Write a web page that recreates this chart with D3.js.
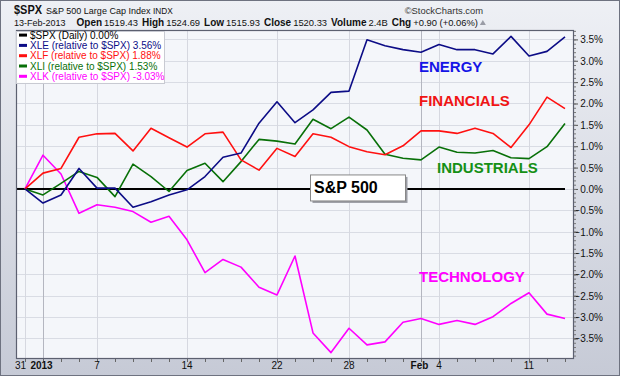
<!DOCTYPE html>
<html>
<head>
<meta charset="utf-8">
<script src="https://cdn.jsdelivr.net/npm/d3@7"></script>
<style>
body { margin: 0; background: #fff; }
svg { display: block; font-family: "Liberation Sans", Arial, sans-serif; }
</style>
</head>
<body>
<svg id="chart"></svg>
<script>
// trading days, Dec 31 2012 - Feb 13 2013
const dates = ["2012-12-31","2013-01-02","2013-01-03","2013-01-04","2013-01-07","2013-01-08","2013-01-09","2013-01-10","2013-01-11",
  "2013-01-14","2013-01-15","2013-01-16","2013-01-17","2013-01-18","2013-01-22","2013-01-23","2013-01-24","2013-01-25",
  "2013-01-28","2013-01-29","2013-01-30","2013-01-31","2013-02-01","2013-02-04","2013-02-05","2013-02-06","2013-02-07",
  "2013-02-08","2013-02-11","2013-02-12","2013-02-13"];

// % performance relative to $SPX
const spx = [0,0,0,0,0,0,0,0,0,0,0,0,0,0,0,0,0,0,0,0,0,0,0,0,0,0,0,0,0,0,0];
const xle = [0,-0.33,-0.14,0.48,0.02,0.02,-0.43,-0.30,-0.14,-0.02,0.29,0.74,0.84,1.54,2.04,1.55,1.85,2.26,2.29,3.49,3.35,3.26,3.20,3.38,3.26,3.26,3.16,3.57,3.11,3.22,3.56];
const xlf = [0,0.37,0.48,1.21,1.29,1.30,0.89,1.42,1.20,0.98,1.29,1.33,0.68,0.44,0.95,0.76,1.29,1.21,0.99,0.87,0.80,1.01,1.36,1.36,1.30,1.42,1.30,0.97,1.50,2.15,1.88];
const xli = [0,-0.14,0.13,0.41,0.27,-0.18,0.58,0.29,-0.06,0.43,0.60,0.17,0.64,1.16,1.12,1.05,1.63,1.41,1.68,1.38,0.81,0.72,0.68,0.98,0.86,0.84,0.90,0.73,0.71,0.99,1.53];
const xlk = [0,0.79,0.35,-0.57,-0.37,-0.43,-0.53,-0.78,-0.64,-1.19,-1.96,-1.65,-1.83,-2.30,-2.48,-1.57,-3.37,-3.83,-3.26,-3.65,-3.58,-3.12,-3.03,-3.17,-3.08,-3.17,-2.99,-2.68,-2.43,-2.93,-3.03];

const legendLabels = ["$SPX (Daily) 0.00%", "XLE (relative to $SPX) 3.56%", "XLF (relative to $SPX) 1.88%",
  "XLI (relative to $SPX) 1.53%", "XLK (relative to $SPX) -3.03%"];
const sectorNames = ["ENERGY", "FINANCIALS", "INDUSTRIALS", "TECHNOLOGY"];

const weekTicks = ["2012-12-31","2013-01-07","2013-01-14","2013-01-22","2013-01-28","2013-02-04","2013-02-11"];
const monthTicks = ["2013-01-02","2013-02-01"];
const monthLabels = ["2013","Feb"];
const yTicks = [-3.5,-3,-2.5,-2,-1.5,-1,-0.5,0,0.5,1,1.5,2,2.5,3,3.5];

const headerQuote = [["Open","1519.43"],["High","1524.69"],["Low","1515.93"],["Close","1520.33"],["Volume","2.4B"],["Chg","+0.90 (+0.06%)"]];

const width = 620, height = 376,
    margin = ({ top: 30, right: 46, bottom: 17, left: 16 });

const svg = d3.select("#chart").attr("width", width).attr("height", height);

const defs = svg.append("defs");
const bg = defs.append("linearGradient").attr("id", "bg").attr("x1", 0).attr("y1", 0).attr("x2", 0).attr("y2", 1);
bg.append("stop").attr("offset", "0%").attr("stop-color", "#eef0f5");
bg.append("stop").attr("offset", "100%").attr("stop-color", "#c6cad6");
defs.append("clipPath").attr("id", "plotclip").append("rect")
    .attr("x", margin.left).attr("y", margin.top)
    .attr("width", width - margin.left - margin.right)
    .attr("height", height - margin.top - margin.bottom);

svg.append("rect").attr("x", 0.5).attr("y", 0.5).attr("width", width - 1).attr("height", height - 1)
    .attr("fill", "url(#bg)").attr("stroke", "#6e7280");

const x = d3.scalePoint()
    .domain(dates)
    .range([margin.left, width - margin.right])
    .padding(0.5);

const y = d3.scaleLinear()
    .domain([-3.98, 3.72])
    .range([height - margin.bottom, margin.top]);

// plot background
svg.append("rect")
    .attr("x", margin.left).attr("y", margin.top)
    .attr("width", width - margin.left - margin.right)
    .attr("height", height - margin.top - margin.bottom)
    .attr("fill", "#f4f6fa");

// grid
const grid = svg.append("g").attr("clip-path", "url(#plotclip)");
grid.selectAll(".hgrid").data(yTicks).join("line")
    .attr("x1", margin.left).attr("x2", width - margin.right)
    .attr("y1", d => Math.round(y(d)) + 0.5).attr("y2", d => Math.round(y(d)) + 0.5)
    .attr("stroke", "#d9dce4");
grid.selectAll(".wgrid").data(weekTicks).join("line")
    .attr("x1", d => Math.round(x(d)) + 0.5).attr("x2", d => Math.round(x(d)) + 0.5)
    .attr("y1", margin.top).attr("y2", height - margin.bottom)
    .attr("stroke", "#d6d8e0");
grid.selectAll(".mgrid").data(monthTicks).join("line")
    .attr("x1", d => Math.round(x(d)) + 0.5).attr("x2", d => Math.round(x(d)) + 0.5)
    .attr("y1", margin.top).attr("y2", height - margin.bottom)
    .attr("stroke", "#b4b6c0");

// series
const series = [
    { values: spx, color: "#000000", w: 2 },
    { values: xlk, color: "#ff00ff", w: 1.6 },
    { values: xli, color: "#087008", w: 1.6 },
    { values: xlf, color: "#ff1010", w: 1.6 },
    { values: xle, color: "#0c0c86", w: 1.6 }
];
const line = d3.line().x((d, i) => x(dates[i])).y(d => y(d));
// $SPX baseline runs in from the plot edge
grid.append("line")
    .attr("x1", margin.left).attr("x2", x(dates[0]))
    .attr("y1", y(spx[0])).attr("y2", y(spx[0]))
    .attr("stroke", "#000").attr("stroke-width", 2);
grid.selectAll(".series").data(series).join("path")
    .attr("fill", "none")
    .attr("stroke", d => d.color)
    .attr("stroke-width", d => d.w)
    .attr("stroke-linejoin", "round")
    .attr("d", d => line(d.values));

// sector labels
const sectorColors = ["#1414e6", "#f01414", "#159015", "#ff00ff"];
const sectorPos = [["2013-02-01", 2.74], ["2013-02-01", 1.93], ["2013-02-04", 0.37], ["2013-02-01", -2.18]];
svg.selectAll(".sector").data(sectorNames).join("text")
    .attr("x", (d, i) => x(sectorPos[i][0]) - 2)
    .attr("y", (d, i) => y(sectorPos[i][1]))
    .attr("fill", (d, i) => sectorColors[i])
    .attr("font-size", 15).attr("font-weight", "bold")
    .text(d => d);

// S&P 500 box
const boxX = x("2013-01-28") - 39, boxY = y(0) - 14.5;
svg.append("rect").attr("x", boxX + 2.5).attr("y", boxY + 2.5).attr("width", 95).attr("height", 26).attr("fill", "#9a9ca4");
svg.append("rect").attr("x", boxX + 0.5).attr("y", boxY + 0.5).attr("width", 95).attr("height", 26)
    .attr("fill", "#ffffff").attr("stroke", "#888");
svg.append("text").attr("x", boxX + 4).attr("y", boxY + 19).attr("font-size", 16).attr("font-weight", "bold")
    .attr("fill", "#000").text("S&P 500");

// plot border
svg.append("rect")
    .attr("x", margin.left + 0.5).attr("y", margin.top + 0.5)
    .attr("width", width - margin.left - margin.right - 1)
    .attr("height", height - margin.top - margin.bottom - 1)
    .attr("fill", "none").attr("stroke", "#5c6070").attr("stroke-width", 1.2);

// right axis
const yAxis = svg.append("g")
    .attr("transform", `translate(${width - margin.right},0)`)
    .call(d3.axisRight(y).tickValues(yTicks).tickSize(4).tickFormat(d => d3.format(".1f")(d) + "%"));
yAxis.select(".domain").remove();
yAxis.selectAll("line").attr("stroke", "#555");
yAxis.selectAll("text").attr("text-anchor", "end").attr("x", 29).attr("dy", "0.35em")
    .attr("font-size", 10).attr("font-family", "Liberation Sans, Arial, sans-serif").attr("fill", "#111");
svg.append("g")
    .attr("transform", `translate(${width - margin.right},0)`)
    .call(d3.axisRight(y).tickValues(d3.range(-39, 38).map(d => d / 10)).tickSize(2).tickFormat(""))
    .call(g => g.select(".domain").remove())
    .selectAll("line").attr("stroke", "#777");

// bottom axis: a tick per trading day
svg.append("g")
    .attr("transform", `translate(0,${height - margin.bottom})`)
    .call(d3.axisBottom(x).tickSize(3).tickFormat(""))
    .call(g => g.select(".domain").remove())
    .selectAll("line").attr("stroke", "#666");

const parse = d3.timeParse("%Y-%m-%d");
svg.selectAll(".daylab").data(weekTicks).join("text")
    .attr("x", (d, i) => i === 0 ? x(d) + 1 : x(d))
    .attr("y", height - 7)
    .attr("text-anchor", (d, i) => i === 0 ? "end" : "middle")
    .attr("font-size", 10).attr("fill", "#111")
    .text(d => d3.timeFormat("%-d")(parse(d)));
svg.selectAll(".monlab").data(monthTicks).join("text")
    .attr("x", d => x(d) - 1.5)
    .attr("y", height - 7)
    .attr("text-anchor", "middle")
    .attr("font-size", 10).attr("font-weight", "bold").attr("fill", "#111")
    .text((d, i) => monthLabels[i]);

// legend
const legend = svg.append("g");
legend.append("rect").attr("x", margin.left + 0.5).attr("y", margin.top + 1.5).attr("width", 148).attr("height", 52)
    .attr("fill", "#ffffff").attr("fill-opacity", 0.95).attr("stroke", "#c8cad2");
const legendColors = ["#000000", "#0c0c86", "#ff1010", "#087008", "#ff00ff"];
const row = legend.selectAll(".row").data(legendLabels).join("g")
    .attr("transform", (d, i) => `translate(0,${38.6 + i * 10.3})`);
row.append("line").attr("x1", 19).attr("x2", 27).attr("y1", -3.5).attr("y2", -3.5)
    .attr("stroke", (d, i) => legendColors[i]).attr("stroke-width", 3);
row.append("text").attr("x", 30).attr("font-size", 10)
    .attr("fill", (d, i) => legendColors[i]).text(d => d);

// header
const header = svg.append("g").attr("fill", "#111");
header.append("text").attr("x", 14).attr("y", 13.5).attr("font-size", 12.5).attr("font-weight", "bold")
    .attr("textLength", 28).attr("lengthAdjust", "spacingAndGlyphs").text("$SPX");
header.append("text").attr("x", 46).attr("y", 13.5).attr("font-size", 9).text("S&P 500 Large Cap Index");
header.append("text").attr("x", 153).attr("y", 13.5).attr("font-size", 8.3).text("INDX");
header.append("text").attr("x", 483).attr("y", 13.5).attr("font-size", 9.4).attr("text-anchor", "end").attr("fill", "#333").text("\u00a9StockCharts.com");
header.append("text").attr("x", 14).attr("y", 26).attr("font-size", 9).text("13-Feb-2013");

let hx = 76.5;
headerQuote.forEach(([label, value]) => {
    const t1 = header.append("text").attr("x", hx).attr("y", 26).attr("font-size", 10).attr("font-weight", "bold").text(label);
    hx += t1.node().getComputedTextLength() + 2;
    const t2 = header.append("text").attr("x", hx).attr("y", 26).attr("font-size", 9.4).text(value);
    hx += t2.node().getComputedTextLength() + 4;
});
header.append("path")
    .attr("d", `M${hx - 2},25 l3,-5 l3,5 z`)
    .attr("fill", "#9a9ca6");
</script>
</body>
</html>
